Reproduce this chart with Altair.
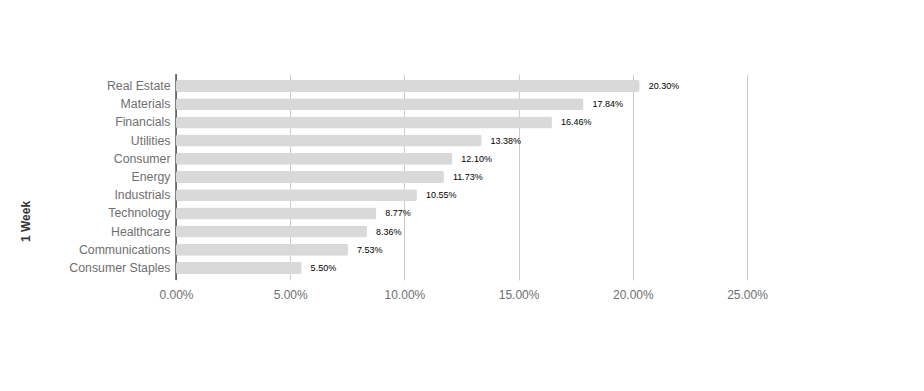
import altair as alt
import pandas as pd

categories = ["Real Estate", "Materials", "Financials", "Utilities", "Consumer",
              "Energy", "Industrials", "Technology", "Healthcare",
              "Communications", "Consumer Staples"]
values = [0.2030, 0.1784, 0.1646, 0.1338, 0.1210, 0.1173, 0.1055,
          0.0877, 0.0836, 0.0753, 0.0550]
x_ticks = [0, 0.05, 0.10, 0.15, 0.20, 0.25]

df = pd.DataFrame({"sector": categories, "value": values})

FONT = "Liberation Sans"

x_enc = alt.X("value:Q",
              scale=alt.Scale(domain=[0, 0.25], nice=False),
              axis=alt.Axis(format=".2%", values=x_ticks, title=None,
                            grid=True, gridColor="#cccccc", domain=False,
                            ticks=False, labelPadding=9, labelFontSize=12,
                            labelFlush=False, labelBound=False,
                            labelColor="#6f6f6f", labelFont=FONT))
y_enc = alt.Y("sector:N", sort=categories,
              scale=alt.Scale(paddingInner=0.34, paddingOuter=0.33),
              axis=alt.Axis(title="1 Week", titleFontWeight="bold",
                            titleFontSize=12, titleColor="#333333",
                            titleFont=FONT, titleAngle=270, titleX=-151,
                            titleY=147, titleAlign="center",
                            titleBaseline="middle",
                            domain=False, ticks=False, labelPadding=6,
                            labelFontSize=12.3, labelColor="#6f6f6f",
                            labelFont=FONT))

zero = alt.Chart(pd.DataFrame({"z": [0]})).mark_rule(
    color="#000000", strokeWidth=1).encode(x=alt.X("z:Q"))

bars = alt.Chart(df).mark_bar(color="#d9d9d9", cornerRadius=2).encode(
    x=x_enc, y=y_enc)

labels = alt.Chart(df).mark_text(
    align="left", baseline="middle", dx=9, fontSize=9, color="#000000",
    font=FONT).encode(
    x=alt.X("value:Q"), y=alt.Y("sector:N", sort=categories),
    text=alt.Text("value:Q", format=".2%"))

chart = alt.layer(zero, bars, labels).properties(
    width=571, height=206,
    background="white",
    autosize=alt.AutoSizeParams(type="none"),
    padding={"left": 168, "top": 66, "right": 169, "bottom": 103},
).configure_view(strokeWidth=0, stroke="transparent")

chart.save("out.html", embed_options={"renderer": "svg", "actions": False})
